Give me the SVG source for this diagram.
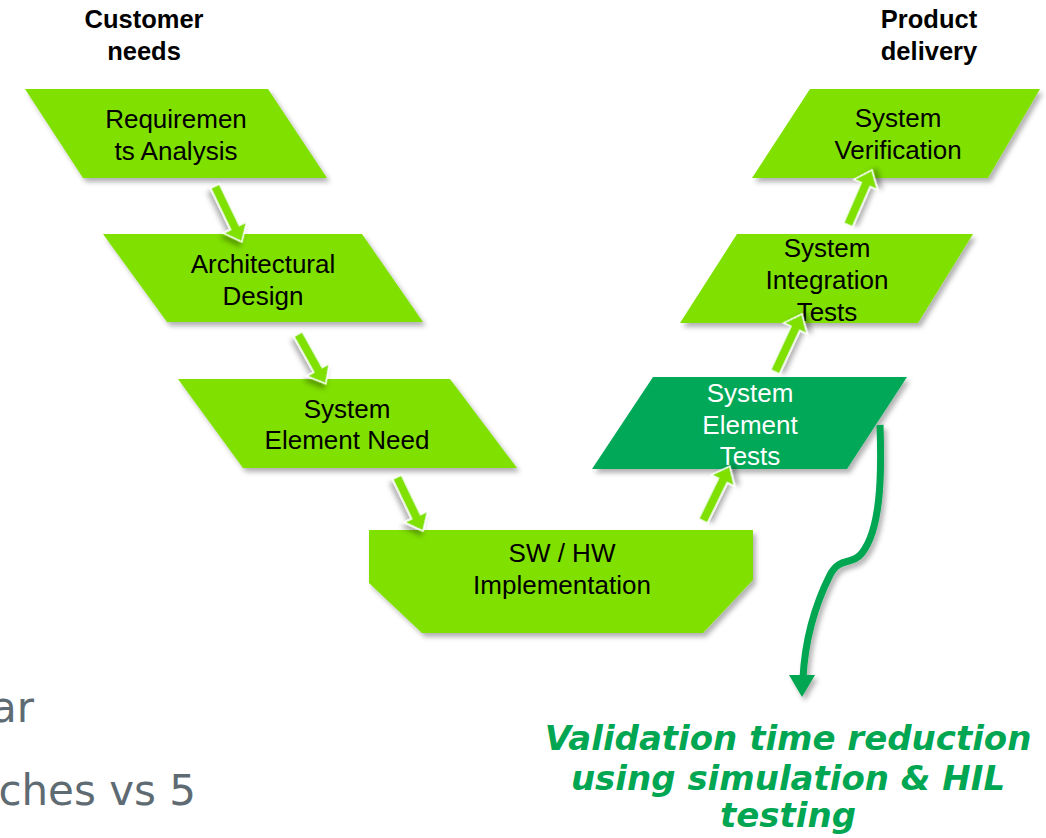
<svg xmlns="http://www.w3.org/2000/svg" width="1046" height="838" viewBox="0 0 1046 838">
<defs>
<filter id="sh" x="-10%" y="-10%" width="130%" height="140%">
<feDropShadow dx="3" dy="4" stdDeviation="2.5" flood-color="#000" flood-opacity="0.3"/>
</filter>
<style>
.node{fill:#80e000;filter:url(#sh)}
.dark{fill:#00a859;filter:url(#sh)}
.t{font-family:"Liberation Sans",Arial,sans-serif;font-size:26px;fill:#000;text-anchor:middle}
.tw{fill:#fff}
.hd{font-family:"Liberation Sans",Arial,sans-serif;font-size:25.5px;font-weight:bold;fill:#000;text-anchor:middle}
.arr{fill:#80e000;stroke:#fff;stroke-width:1.5;filter:url(#sh)}
.side{font-family:"DejaVu Sans",Verdana,sans-serif;font-size:42px;fill:#5f6b73;text-anchor:end}
.note{font-family:"DejaVu Sans",Verdana,sans-serif;font-size:34px;font-weight:bold;font-style:italic;fill:#00a651;text-anchor:middle}
</style>
</defs>
<rect width="1046" height="838" fill="#fff"/>

<g id="hdr-left"><text class="hd" x="144" y="28">Customer</text><text class="hd" x="144" y="60">needs</text></g>
<g id="hdr-right"><text class="hd" x="929" y="28">Product</text><text class="hd" x="929" y="60">delivery</text></g>

<g id="n1"><polygon class="node" points="25,89 268,89 327,178 83,178"/>
<text class="t" x="176" y="128">Requiremen</text><text class="t" x="176" y="160">ts Analysis</text></g>

<g id="n2"><polygon class="node" points="103,234 362,234 423,322 167,322"/>
<text class="t" x="263" y="273">Architectural</text><text class="t" x="263" y="305">Design</text></g>

<g id="n3"><polygon class="node" points="178,379 450,379 517,468 243,468"/>
<text class="t" x="347" y="418">System</text><text class="t" x="347" y="449">Element Need</text></g>

<g id="n4"><polygon class="node" points="369,530 753,530 753,580 703,633 422,633 369,583"/>
<text class="t" x="562" y="562">SW / HW</text><text class="t" x="562" y="594">Implementation</text></g>

<g id="n5"><polygon class="dark" points="653,377 907,377 847,469 592,469"/>
<text class="t tw" x="750" y="402">System</text><text class="t tw" x="750" y="434">Element</text><text class="t tw" x="750" y="465">Tests</text></g>

<g id="n6"><polygon class="node" points="737,234 973,234 918,323 680,323"/>
<text class="t" x="827" y="257">System</text><text class="t" x="827" y="289">Integration</text><text class="t" x="827" y="321">Tests</text></g>

<g id="n7"><polygon class="node" points="810,89 1040,89 988,178 752,178"/>
<text class="t" x="898" y="127">System</text><text class="t" x="898" y="159">Verification</text></g>

<g id="connectors">
<path class="arr" transform="translate(215,186) rotate(64.3)" d="M0,-5 L46,-5 L46,-13 L62,0 L46,13 L46,5 L0,5 Z"/>
<path class="arr" transform="translate(298,334) rotate(60.8)" d="M0,-5 L41,-5 L41,-13 L57,0 L41,13 L41,5 L0,5 Z"/>
<path class="arr" transform="translate(397,477) rotate(64.3)" d="M0,-5 L44,-5 L44,-13 L60,0 L44,13 L44,5 L0,5 Z"/>
<path class="arr" transform="translate(703,521) rotate(-63.9)" d="M0,-5 L45,-5 L45,-13 L61,0 L45,13 L45,5 L0,5 Z"/>
<path class="arr" transform="translate(775,372) rotate(-65)" d="M0,-5 L48,-5 L48,-13 L64,0 L48,13 L48,5 L0,5 Z"/>
<path class="arr" transform="translate(848,225) rotate(-66.4)" d="M0,-5 L44,-5 L44,-13 L60,0 L44,13 L44,5 L0,5 Z"/>
<g filter="url(#sh)">
<path d="M880,425 C882,480 880,530 862,553 C852,566 840,556 830,575 C815,605 805,640 803,678" fill="none" stroke="#00a651" stroke-width="7"/>
<polygon points="789,675 815,675 802,697" fill="#00a651"/>
</g>
</g>

<g id="side-text"><text class="side" x="34" y="722">ar</text><text class="side" x="196" y="805">ches vs 5</text></g>

<g id="note"><text class="note" x="788" y="750">Validation time reduction</text><text class="note" x="788" y="790">using simulation &amp; HIL</text><text class="note" x="788" y="827">testing</text></g>
</svg>
